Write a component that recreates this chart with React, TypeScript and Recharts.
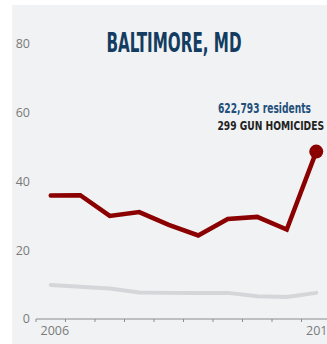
import { LineChart, Line, XAxis, YAxis } from "recharts";

const years = [2006, 2007, 2008, 2009, 2010, 2011, 2012, 2013, 2014, 2015];
const cityRate = [35.9, 36.0, 30.0, 31.1, 27.4, 24.3, 29.1, 29.7, 26.0, 48.7];
const nationalRate = [9.9, 9.4, 8.9, 7.7, 7.6, 7.6, 7.6, 6.6, 6.4, 7.6];
const yTicks = [0, 20, 40, 60, 80];
const xLabels = [2006, 2015];

const title = "BALTIMORE, MD";
const residentsNote = "622,793 residents";
const homicidesNote = "299 GUN HOMICIDES";

const RED = "#8b0000";
const GREY_LINE = "#d4d6d9";
const NAVY = "#133c60";
const narrow = "'Liberation Sans Narrow', 'DejaVu Sans Condensed', 'Liberation Sans', sans-serif";

const data = years.map((year, i) => ({
  year,
  city: cityRate[i],
  national: nationalRate[i],
}));

// tick marks sit on year boundaries, labels only for first/last year
const boundaryTicks = years.map((y) => y - 0.5);

function YearTick(props: any) {
  const { x, y, payload } = props;
  const year = payload.value + 0.5;
  if (!xLabels.includes(year)) return <g />;
  return (
    <text
      x={x + 4.5}
      y={y}
      dy="0.71em"
      textAnchor="start"
      fill="#7a7a7a"
      fontSize={12.5}
      fontFamily="'Open Sans', sans-serif"
    >
      {year}
    </text>
  );
}

function EndDot(props: any) {
  const { cx, cy, index } = props;
  if (index !== data.length - 1) return <g key={`d${index}`} />;
  return <circle key={`d${index}`} cx={cx} cy={cy} r={7} fill={RED} />;
}

export default function App() {
  return (
    <div
      style={{
        position: "absolute",
        left: 0,
        top: 0,
        width: 327,
        height: 344,
        overflow: "hidden",
        background: "#fff",
      }}
    >
      <div
        style={{
          position: "absolute",
          left: 12,
          top: 5,
          width: 315,
          height: 339,
          background: "#f0f2f4",
        }}
      />
      <div style={{ position: "absolute", left: 0, top: 0 }}>
        <LineChart
          width={331}
          height={344}
          data={data}
          margin={{ top: 44, right: 0, bottom: 0, left: 0 }}
        >
          <XAxis
            dataKey="year"
            type="number"
            domain={[2005.5, 2015.5]}
            ticks={boundaryTicks}
            interval={0}
            height={25}
            tickSize={3}
            tickMargin={4}
            axisLine={{ stroke: "#8c8c8c" }}
            tickLine={{ stroke: "#8c8c8c" }}
            tick={<YearTick />}
          />
          <YAxis
            domain={[0, 80]}
            ticks={yTicks}
            width={36}
            axisLine={false}
            tickLine={false}
            tickSize={0}
            tickMargin={6}
            tick={{ fill: "#7a7a7a", fontSize: 12.5, fontFamily: "'Open Sans', sans-serif" }}
          />
          <Line
            dataKey="national"
            type="linear"
            stroke={GREY_LINE}
            strokeWidth={4}
            strokeLinecap="round"
            dot={false}
            isAnimationActive={false}
          />
          <Line
            dataKey="city"
            type="linear"
            stroke={RED}
            strokeWidth={4.5}
            strokeLinecap="round"
            dot={EndDot}
            activeDot={false}
            isAnimationActive={false}
          />
        </LineChart>
      </div>
      <svg
        width={327}
        height={344}
        style={{ position: "absolute", left: 0, top: 0, pointerEvents: "none" }}
      >
        <text
          x={106.5}
          y={51.5}
          fill={NAVY}
          fontSize={26}
          fontWeight="bold"
          fontFamily={narrow}
          textLength={135}
          lengthAdjust="spacingAndGlyphs"
        >
          {title}
        </text>
        <text
          x={311}
          y={113}
          textAnchor="end"
          fill="#1f4f7a"
          fontSize={13.5}
          fontWeight="bold"
          fontFamily={narrow}
          textLength={93}
          lengthAdjust="spacingAndGlyphs"
        >
          {residentsNote}
        </text>
        <text
          x={324}
          y={130}
          textAnchor="end"
          fill="#222"
          fontSize={13}
          fontWeight="bold"
          fontFamily={narrow}
          textLength={106.5}
          lengthAdjust="spacingAndGlyphs"
        >
          {homicidesNote}
        </text>
      </svg>
    </div>
  );
}
